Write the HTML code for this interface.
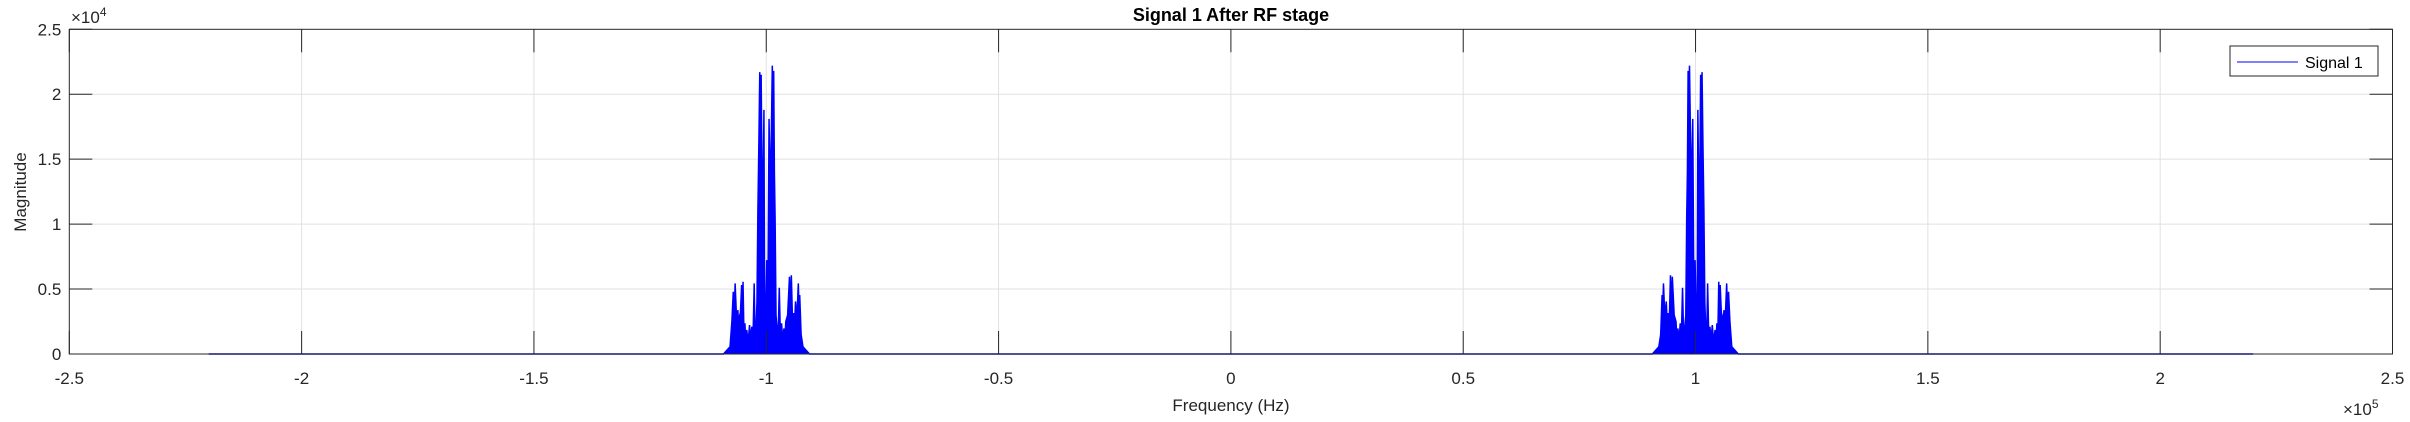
<!DOCTYPE html>
<html><head><meta charset="utf-8"><style>
html,body{margin:0;padding:0;background:#fff;}
svg{display:block;font-family:"Liberation Sans",Arial,sans-serif;}
</style></head><body>
<svg id="chart" width="2410" height="422" viewBox="0 0 2410 422">
<g id="grid"></g>
<g id="series"></g>
<g id="axes"></g>
<text x="1231" y="21" text-anchor="middle" font-size="18" font-weight="bold" fill="#000">Signal 1 After RF stage</text>
<text x="1231" y="411" text-anchor="middle" font-size="17" fill="#262626">Frequency (Hz)</text>
<text transform="translate(26,192) rotate(-90)" text-anchor="middle" font-size="17" fill="#262626">Magnitude</text>
<text x="71" y="23" font-size="17" fill="#262626">×10<tspan dy="-7" font-size="12">4</tspan></text>
<text x="2343" y="415" font-size="17" fill="#262626">×10<tspan dy="-7" font-size="12">5</tspan></text>
<g>
<rect x="2230" y="46" width="148" height="30" fill="#fff" stroke="#262626" stroke-width="1"/>
<line x1="2237" y1="62" x2="2298" y2="62" stroke="#0000ff" stroke-width="1"/>
<text x="2305" y="68" font-size="16" fill="#000">Signal 1</text>
</g>
</svg>
<script>
const xTicks = [-250000,-200000,-150000,-100000,-50000,0,50000,100000,150000,200000,250000];
const xTickLabels = ["-2.5","-2","-1.5","-1","-0.5","0","0.5","1","1.5","2","2.5"];
const yTicks = [0,5000,10000,15000,20000,25000];
const yTickLabels = ["0","0.5","1","1.5","2","2.5"];
const carriers = [-100000, 100000];
const spanHz = [-220000, 220000];
// offsets (Hz) relative to the negative carrier; positive carrier is mirrored
const offsetsHz = [-9200,-7800,-7400,-7100,-6900,-6700,-6400,-6100,-5950,-5800,-5550,-5300,-5150,-5000,-4800,-4600,-4400,-4200,-3900,-3600,-3350,-3100,-2850,-2600,-2400,-2200,-2000,-1800,-1600,-1400,-1250,-1100,-800,-500,-350,-250,-100,100,350,600,900,1300,1450,1600,1750,1900,2100,2300,2550,2800,3050,3300,3550,3800,4000,4200,4600,5000,5200,5400,5650,5900,6100,6300,6600,6900,7050,7200,7500,7900,9300];
const magnitudes = [0,560,2500,4790,3000,5440,2800,3380,1500,2870,3200,5310,3000,5560,1400,2360,1000,1850,900,2230,1100,2100,1200,5440,1300,1850,4000,11100,16000,21700,17000,21500,9000,18800,3000,1330,3500,7230,4000,18100,12000,22200,19000,21800,14000,10560,3000,2100,1200,5100,1300,2360,1000,1970,900,2490,3000,5950,3500,6060,2500,3150,2300,4050,2800,5440,3500,4540,1500,560,0];

const L=69.3,R=2392.5,T=29.3,B=354;
const xs=v=>L+(v-xTicks[0])/(xTicks[xTicks.length-1]-xTicks[0])*(R-L);
const ys=v=>B-(v-yTicks[0])/(yTicks[yTicks.length-1]-yTicks[0])*(B-T);
const NS="http://www.w3.org/2000/svg";
const mk=(t,a,p)=>{const e=document.createElementNS(NS,t);for(const k in a)e.setAttribute(k,a[k]);p.appendChild(e);return e;};
const grid=document.getElementById('grid'),axes=document.getElementById('axes'),series=document.getElementById('series');

xTicks.forEach((v,i)=>{
  const x=xs(v);
  if(i>0&&i<xTicks.length-1){
    const g=mk('line',{x1:x,y1:T,x2:x,y2:B,stroke:'#e1e1e1','stroke-width':1},grid);
    
    
  }
  const t1=mk('line',{x1:x,y1:B,x2:x,y2:B-23,stroke:'#262626','stroke-width':1},axes);
  
  
  const t2=mk('line',{x1:x,y1:T,x2:x,y2:T+23,stroke:'#262626','stroke-width':1},axes);
  
  
  const lb=mk('text',{x:x,y:B+30,'text-anchor':'middle','font-size':17,fill:'#262626'},axes);
  lb.textContent=xTickLabels[i];
  
  
});
yTicks.forEach((v,i)=>{
  const y=ys(v);
  if(i>0&&i<yTicks.length-1){
    const g=mk('line',{x1:L,y1:y,x2:R,y2:y,stroke:'#e1e1e1','stroke-width':1},grid);
    
    
  }
  const t1=mk('line',{x1:L,y1:y,x2:L+23,y2:y,stroke:'#262626','stroke-width':1},axes);
  
  
  const t2=mk('line',{x1:R,y1:y,x2:R-23,y2:y,stroke:'#262626','stroke-width':1},axes);
  
  
  const lb=mk('text',{x:L-8,y:y+6,'text-anchor':'end','font-size':17,fill:'#262626'},axes);
  lb.textContent=yTickLabels[i];
  
  
});
const frame=mk('rect',{x:L,y:T,width:R-L,height:B-T,fill:'none',stroke:'#262626','stroke-width':1},axes);



let pts=[[spanHz[0],0]];
carriers.forEach((c,ci)=>{
  const n=offsetsHz.length;
  for(let k=0;k<n;k++){
    const i= ci===0?k:n-1-k;
    const off= ci===0?offsetsHz[i]:-offsetsHz[i];
    pts.push([c+off,magnitudes[i]]);
  }
});
pts.push([spanHz[1],0]);
const d=pts.map((p,i)=>(i?'L':'M')+xs(p[0]).toFixed(2)+','+ys(p[1]).toFixed(2)).join(' ');
const area=mk('path',{d:d+' Z',fill:'#0000ff',stroke:'none'},series);


const line=mk('path',{d:d,fill:'none',stroke:'#0000ff','stroke-width':1.5},series);


</script>
</body></html>
